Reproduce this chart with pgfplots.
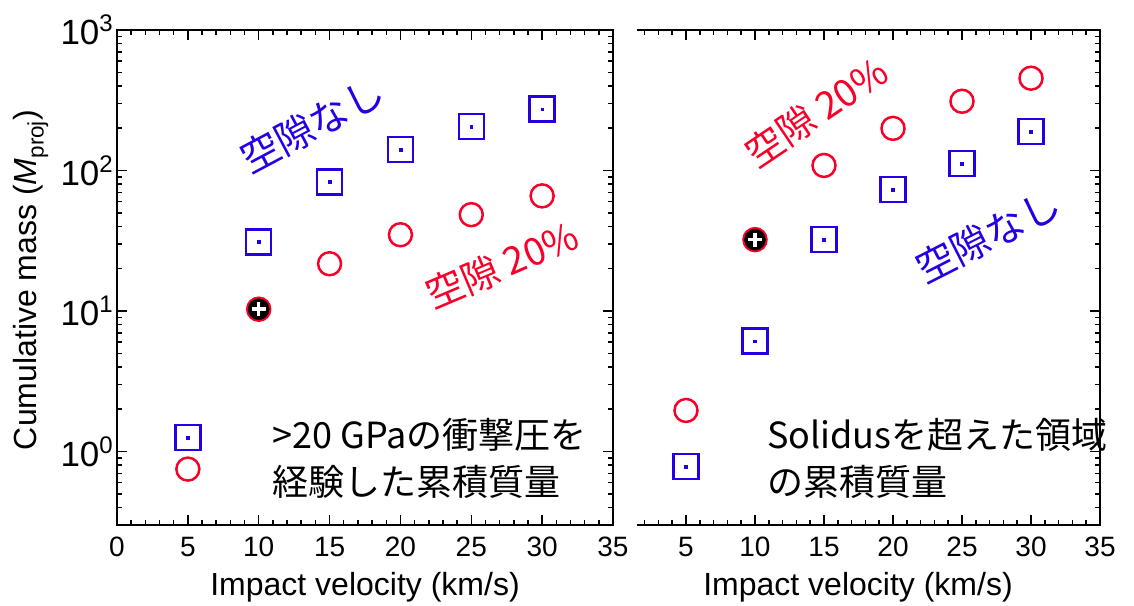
\documentclass[border=0pt]{standalone}
\usepackage{pgfplots}
\pgfplotsset{compat=1.18}
\usepackage{fontspec}
\setmainfont{Liberation Sans}
\newfontfamily\jp{Noto Sans CJK JP}
\definecolor{mblue}{RGB}{35,0,230}
\definecolor{mred}{RGB}{250,0,40}
\newcommand\pw[1]{10\raisebox{13pt}{\fontsize{24}{24}\selectfont #1}}

\pgfplotstableread{
x y
5 1.26
10 31.1
15 83
20 141
25 206
30 273
}\Lsq
\pgfplotstableread{
x y
5 0.75
10 10.3
15 21.7
20 34.9
25 48.5
30 66
}\Lci
\pgfplotstableread{
x y
5 0.78
10 6.1
15 32.2
20 73.1
25 112
30 190
}\Rsq
\pgfplotstableread{
x y
5 1.96
10 32.2
15 108.6
20 199.5
25 311
30 454
}\Rci

\pgfplotsset{
  mysqm/.style={only marks, color=mblue, mark=square, mark size=12.5pt, mark options={draw=mblue, fill=none, line width=2.5pt}},
  mydotm/.style={only marks, color=mblue, mark=square*, mark size=1.4pt, mark options={draw=mblue, fill=mblue}},
  mycim/.style={only marks, color=mred, mark=o, mark size=11.5pt, mark options={draw=mred, fill=none, line width=2.5pt}},
  mybkm/.style={only marks, color=black, mark=*, mark size=10.5pt, mark options={draw=black, fill=black}},
  mywpm/.style={only marks, color=white, mark=+, mark size=7pt, mark options={draw=white, line width=3.5pt}},
}

\begin{document}
\begin{tikzpicture}[x=1pt,y=1pt]
\useasboundingbox (0,0) rectangle (1134,605);

\begin{axis}[at={(117pt,80pt)}, anchor=south west,
  width=496pt, height=495pt, xmin=0,
  scale only axis, clip=false,
  ymode=log, ymin=0.3, ymax=1000, xmax=35,
  xtick={0,5,...,35}, minor xtick={1,2,...,34},
  ytick={1,10,100,1000},
  minor ytick={0.3,0.4,0.5,0.6,0.7,0.8,0.9,2,3,4,5,6,7,8,9,20,30,40,50,60,70,80,90,200,300,400,500,600,700,800,900},
  tick align=inside, major tick length=10pt, minor tick length=5pt,
  axis line style={line width=1.5pt},
  every tick/.style={black, line width=1.5pt},
  /pgf/number format/assume math mode=true,
  xticklabel style={font=\fontsize{28}{30}\selectfont, inner sep=0pt, yshift=-12pt},
  yticklabel style={font=\fontsize{35}{36}\selectfont, inner sep=0pt, xshift=-4pt},
  yticklabels={\pw{0},\pw{1},\pw{2},\pw{3}},
]
\addplot[mysqm] table[x=x,y=y] {\Lsq};
\addplot[mydotm] table[x=x,y=y] {\Lsq};
\addplot[mycim] table[x=x,y=y] {\Lci};
\addplot[mybkm] coordinates {(10,10.3)};
\addplot[mywpm] coordinates {(10,10.3)};
\end{axis}

\begin{axis}[at={(637pt,80pt)}, anchor=south west,
  width=463pt, height=495pt, xmin=1.45,
  scale only axis, clip=false,
  ymode=log, ymin=0.3, ymax=1000, xmax=35,
  xtick={0,5,...,35}, minor xtick={2,3,...,34},
  ytick={1,10,100,1000},
  minor ytick={0.3,0.4,0.5,0.6,0.7,0.8,0.9,2,3,4,5,6,7,8,9,20,30,40,50,60,70,80,90,200,300,400,500,600,700,800,900},
  tick align=inside, major tick length=10pt, minor tick length=5pt,
  axis line style={draw=none},
  every tick/.style={black, line width=1.5pt},
  /pgf/number format/assume math mode=true,
  xticklabel style={font=\fontsize{28}{30}\selectfont, inner sep=0pt, yshift=-12pt},
  ytick pos=right, yticklabels={},
]
\draw[line width=1.5pt] (rel axis cs:0,1) -- (rel axis cs:1,1) -- (rel axis cs:1,0) -- (rel axis cs:0,0);
\addplot[mycim] table[x=x,y=y] {\Rci};
\addplot[mysqm] table[x=x,y=y] {\Rsq};
\addplot[mydotm] table[x=x,y=y] {\Rsq};
\addplot[mybkm] coordinates {(10,32.2)};
\addplot[mywpm] coordinates {(10,32.2)};
\end{axis}

% axis labels
\node[anchor=base, rotate=90, font=\fontsize{32}{34}\selectfont] at (36,325) {Cumulative mass (\textit{M}\textsubscript{proj})};
\node[anchor=base, font=\fontsize{32}{34}\selectfont] at (365,10) {Impact velocity (km/s)};
\node[anchor=base, font=\fontsize{32}{34}\selectfont] at (858,10) {Impact velocity (km/s)};

% annotations
\node[text=mblue, rotate=28, font=\jp\fontsize{39}{40}\selectfont] at (312,480) {空隙なし};
\node[text=mred, rotate=23, font=\jp\fontsize{38}{40}\selectfont] at (502,340) {空隙 20\%};
\node[text=mred, rotate=34, font=\jp\fontsize{38}{40}\selectfont] at (816,493) {空隙 20\%};
\node[text=mblue, rotate=27, font=\jp\fontsize{39}{40}\selectfont] at (988,369) {空隙なし};

% legend text
\node[anchor=base west, inner sep=0pt, font=\jp\fontsize{36}{38}\selectfont] at (272,156) {>20 GPaの衝撃圧を};
\node[anchor=base west, inner sep=0pt, font=\jp\fontsize{36}{38}\selectfont] at (272,110) {経験した累積質量};
\node[anchor=base west, inner sep=0pt, font=\jp\fontsize{36}{38}\selectfont] at (767,157) {Solidusを超えた領域};
\node[anchor=base west, inner sep=0pt, font=\jp\fontsize{36}{38}\selectfont] at (767,110) {の累積質量};
\end{tikzpicture}
\end{document}
